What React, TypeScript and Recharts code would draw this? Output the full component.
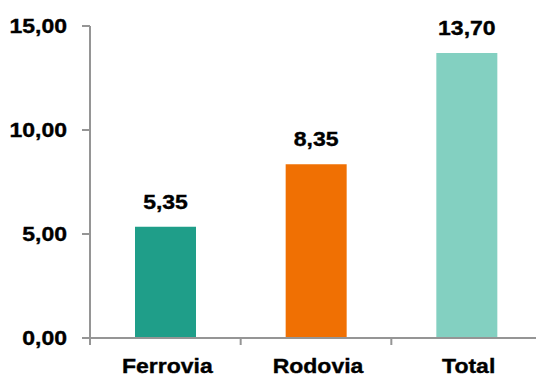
import { Bar, BarChart, Cell, LabelList, XAxis, YAxis } from "recharts";

const categories = ["Ferrovia", "Rodovia", "Total"];
const values = [5.35, 8.35, 13.7];
const barColors = ["#1f9e89", "#f07003", "#83d0c1"];
const yTicks = [0, 5, 10, 15];

const data = categories.map((name, i) => ({ name, value: values[i] }));

const AXIS = "#959595";
const FONT = "'Liberation Sans', Arial, sans-serif";
const STRETCH = 1.18;

const fmt = (v: number) => v.toFixed(2).replace(".", ",");

const CHART_W = 542;
const LEFT = 90;
const BAND = (CHART_W - LEFT) / categories.length;

function StretchText({ x, y, text, anchor = "middle" }: { x: number; y: number; text: string; anchor?: string }) {
  return (
    <text
      transform={`translate(${x},${y}) scale(${STRETCH},1)`}
      x={0}
      y={0}
      textAnchor={anchor}
      fontFamily={FONT}
      fontWeight="bold"
      fontSize={19.5}
      fill="#000"
      stroke="#000"
      strokeWidth={0.35}
    >
      {text}
    </text>
  );
}

function XTick(props: any) {
  const { x, y, payload } = props;
  const left = x - BAND / 2;
  return (
    <g>
      <line x1={left} x2={left} y1={y} y2={y + 7} stroke={AXIS} strokeWidth={2} />
      <StretchText x={x + 2} y={y + 35} text={payload.value} />
    </g>
  );
}

function YTick(props: any) {
  const { x, y, payload } = props;
  return <StretchText x={x} y={y + 7} text={fmt(payload.value)} anchor="end" />;
}

function ValueLabel(props: any) {
  const { x, y, width, value } = props;
  return <StretchText x={x + width / 2} y={y - 18} text={fmt(value)} />;
}

export default function App() {
  return (
    <div
      style={{
        position: "absolute",
        left: 0,
        top: 0,
        width: 536,
        height: 376,
        overflow: "hidden",
        background: "#fff",
      }}
    >
      <BarChart
        width={CHART_W}
        height={376}
        data={data}
        margin={{ top: 26, right: 0, bottom: 0, left: 0 }}
        style={{ overflow: "visible" }}
      >
        <XAxis
          dataKey="name"
          height={38}
          axisLine={{ stroke: AXIS, strokeWidth: 2 }}
          tickLine={false}
          tickSize={0}
          tickMargin={0}
          tick={<XTick />}
          interval={0}
        />
        <YAxis
          width={LEFT}
          domain={[0, 15]}
          ticks={yTicks}
          axisLine={{ stroke: AXIS, strokeWidth: 2 }}
          tickLine={{ stroke: AXIS, strokeWidth: 2 }}
          tickSize={8}
          tickMargin={15}
          tick={<YTick />}
        />
        <Bar dataKey="value" barSize={61} isAnimationActive={false}>
          {data.map((d, i) => (
            <Cell key={d.name} fill={barColors[i]} />
          ))}
          <LabelList dataKey="value" content={<ValueLabel />} />
        </Bar>
      </BarChart>
    </div>
  );
}
